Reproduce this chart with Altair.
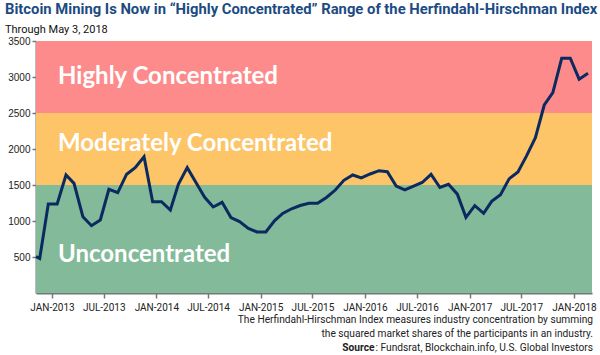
import altair as alt
import pandas as pd

# ---------------- data ----------------
dates = [
    "2012-11-06", "2012-11-19", "2012-12-19",
    "2013-01-19", "2013-02-19", "2013-03-19", "2013-04-19", "2013-05-19", "2013-06-19",
    "2013-07-19", "2013-08-19", "2013-09-19", "2013-10-19", "2013-11-19", "2013-12-19",
    "2014-01-19", "2014-02-19", "2014-03-19", "2014-04-19", "2014-05-19", "2014-06-19",
    "2014-07-19", "2014-08-19", "2014-09-19", "2014-10-19", "2014-11-19", "2014-12-19",
    "2015-01-19", "2015-02-19", "2015-03-19", "2015-04-19", "2015-05-19", "2015-06-19",
    "2015-07-19", "2015-08-19", "2015-09-19", "2015-10-19", "2015-11-19", "2015-12-19",
    "2016-01-19", "2016-02-19", "2016-03-19", "2016-04-19", "2016-05-19", "2016-06-19",
    "2016-07-19", "2016-08-19", "2016-09-19", "2016-10-19", "2016-11-19", "2016-12-19",
    "2017-01-19", "2017-02-19", "2017-03-19", "2017-04-19", "2017-05-19", "2017-06-19",
    "2017-07-19", "2017-08-19", "2017-09-19", "2017-10-19", "2017-11-19", "2017-12-19",
    "2018-01-19", "2018-02-19",
]
hhi = [
    505, 480, 1236,
    1236, 1639, 1523, 1060, 935, 1014,
    1440, 1393, 1650, 1741, 1893, 1268,
    1268, 1153, 1510, 1741, 1537, 1330,
    1195, 1259, 1048, 991, 898, 848,
    848, 1005, 1106, 1170, 1215, 1245,
    1245, 1327, 1430, 1565, 1639, 1598,
    1653, 1699, 1685, 1486, 1431, 1486,
    1535, 1648, 1465, 1510, 1373, 1051,
    1213, 1106, 1273, 1366, 1585, 1680,
    1905, 2157, 2611, 2782, 3260, 3260,
    2970, 3051,
]

tick_dates = [
    "2013-01-01", "2013-07-01", "2014-01-01", "2014-07-01", "2015-01-01", "2015-07-01",
    "2016-01-01", "2016-07-01", "2017-01-01", "2017-07-01", "2018-01-01",
]
y_ticks = [500, 1000, 1500, 2000, 2500, 3000, 3500]

band_low = [0, 1500, 2500]
band_high = [1500, 2500, 3500]
band_colors = ["#83BA9A", "#FDC468", "#FE8B8C"]
band_labels = ["Unconcentrated", "Moderately Concentrated", "Highly Concentrated"]
band_label_y = [525, 2070, 3000]

title_text = "Bitcoin Mining Is Now in \u201cHighly Concentrated\u201d Range of the Herfindahl-Hirschman Index"
subtitle_text = "Through May 3, 2018"
note_line1 = "The Herfindahl-Hirschman Index measures industry concentration by summing"
note_line2 = "the squared market shares of the participants in an industry."
source_bold = "Source"
source_rest = ": Fundsrat, Blockchain.info, U.S. Global Investors"

# ---------------- tables ----------------
line_df = pd.DataFrame({"date": [d + "T00:00:00" for d in dates], "hhi": hhi})
band_df = pd.DataFrame({"lo": band_low, "hi": band_high, "color": band_colors,
                        "label": band_labels, "ly": band_label_y})
one = pd.DataFrame({"a": [0]})


def to_dt(s):
    y, m, d = (int(v) for v in s.split("-"))
    return alt.DateTime(year=y, month=m, date=d)


W, H = 556, 252
FONT = "Roboto"

x_scale = alt.Scale(domain=[to_dt("2012-11-06"), to_dt("2018-03-05")], nice=False)
y_scale = alt.Scale(domain=[0, 3500], nice=False)

y_axis = alt.Axis(values=y_ticks, format="d", labelFont="Liberation Sans", labelFontSize=10,
                  labelColor="#222", labelPadding=2, tickSize=4, tickColor="#777",
                  tickWidth=1.5, domainColor="#777", domainWidth=2, grid=False)
x_axis = alt.Axis(values=[to_dt(t) for t in tick_dates],
                  labelExpr="upper(timeFormat(datum.value, '%b-%Y'))",
                  labelFont=FONT, labelFontSize=10, labelColor="#222",
                  labelPadding=4, tickSize=5, tickColor="#777", tickWidth=1.5,
                  domainColor="#777", domainWidth=2, grid=False, labelFlush=False)

bands = alt.Chart(band_df).mark_rect().encode(
    y=alt.Y("lo:Q", scale=y_scale, axis=y_axis, title=None),
    y2="hi:Q",
    color=alt.Color("color:N", scale=None),
)

band_text = alt.Chart(band_df).mark_text(
    align="left", baseline="middle", dx=22, font="Lato", fontSize=24,
    fontWeight="bold", color="white",
).encode(
    x=alt.value(0),
    y=alt.Y("ly:Q", scale=y_scale, axis=y_axis, title=None),
    text="label:N",
)

line = alt.Chart(line_df).mark_line(color="#0B2A5F", strokeWidth=3, strokeJoin="miter").encode(
    x=alt.X("date:T", scale=x_scale, title=None, axis=x_axis),
    y=alt.Y("hhi:Q", scale=y_scale, title=None, axis=y_axis),
)

note_style = dict(font=FONT, fontSize=10.2, color="#222", baseline="middle")
n1 = alt.Chart(one).mark_text(align="right", **note_style).encode(
    x=alt.value(557), y=alt.value(279), text=alt.value(note_line1))
n2 = alt.Chart(one).mark_text(align="right", **note_style).encode(
    x=alt.value(557), y=alt.value(293), text=alt.value(note_line2))
n3 = alt.Chart(one).mark_text(align="right", **note_style).encode(
    x=alt.value(557), y=alt.value(307), text=alt.value(source_rest))
n4 = alt.Chart(one).mark_text(align="right", fontWeight="bold", **note_style).encode(
    x=alt.value(338.5), y=alt.value(307), text=alt.value(source_bold))

chart = alt.layer(bands, band_text, line, n1, n2, n3, n4).properties(
    width=W, height=H,
    autosize=alt.AutoSizeParams(type="none"),
    padding={"left": 36, "top": 41, "right": 8, "bottom": 62},
    title=alt.TitleParams(
        text=title_text, subtitle=subtitle_text, anchor="start", frame="group", dx=-31,
        font=FONT, fontSize=14.8, fontWeight="bold", color="#1C4B82",
        subtitleFont=FONT, subtitleFontSize=11, subtitleColor="#111",
        subtitlePadding=7, offset=1,
    ),
).configure_view(stroke=None)

chart.save("out.html", embed_options={"renderer": "svg", "actions": False})
